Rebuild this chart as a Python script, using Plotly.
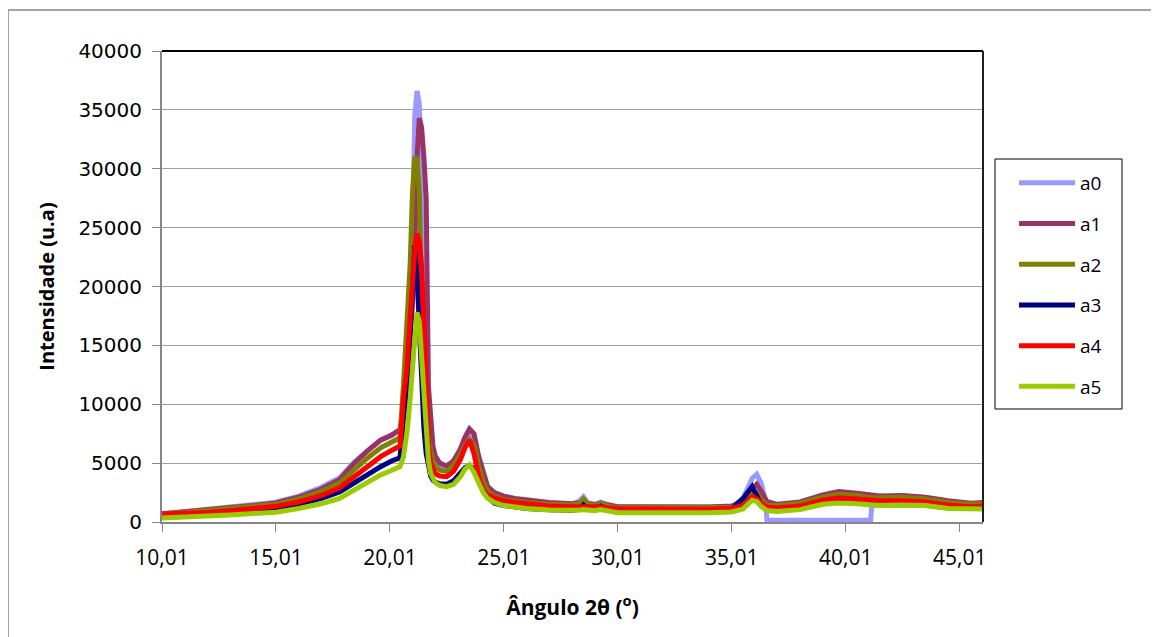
import plotly.graph_objects as go

# 2-theta positions (degrees) at which intensities were read
two_theta = [10.01, 11, 12, 13, 14, 15, 16, 17, 17.8, 18.4, 19.0, 19.6, 20.1, 20.45,
             20.6, 20.75, 20.9, 21.0, 21.1, 21.2, 21.3, 21.4, 21.5, 21.6, 21.7, 21.8, 21.9, 22.0,
             22.2, 22.5, 22.8, 23.1, 23.3, 23.5, 23.7, 23.9, 24.1, 24.3, 24.6, 25.0, 25.5, 26.0, 27.0,
             28.0, 28.3, 28.5, 28.7, 29.0, 29.25, 29.6, 30.0, 31, 32, 33, 34, 35, 35.5, 35.9, 36.1,
             36.3, 36.5, 36.55, 37, 38, 39, 39.7, 40.5, 41.1, 41.15, 41.5, 42.5, 43.5, 44.5, 45.5, 46.01]

a0 = [680, 870, 1080, 1250, 1450, 1680, 2200, 2950, 3750, 5000, 6000, 6950, 7350, 7850,
      9000, 12000, 16000, 24000, 34500, 36600, 35500, 29000, 17000, 11000, 7800, 6300, 5500, 5200,
      4800, 4600, 5000, 6000, 7000, 7600, 7200, 5400, 3800, 2900, 2400, 2100, 1900, 1750, 1600,
      1500, 1750, 2150, 1600, 1450, 1700, 1400, 1250, 1250, 1230, 1200, 1220, 1300, 2000, 3700, 4050,
      3300, 1700, 150, 150, 150, 150, 150, 150, 150, 1400, 1400, 1450, 1400, 1200, 1100, 1150]

a1 = [700, 850, 1050, 1200, 1400, 1620, 2100, 2800, 3600, 4900, 6000, 6950, 7400, 7850,
      9500, 12500, 15500, 18500, 23000, 31000, 34300, 33500, 31000, 27500, 11500, 8200, 6400, 5600,
      5000, 4760, 5200, 6200, 7200, 7900, 7500, 5600, 4100, 3000, 2500, 2200, 2000, 1850, 1650,
      1550, 1600, 1700, 1600, 1500, 1600, 1450, 1300, 1300, 1280, 1250, 1270, 1350, 1700, 2800, 3200,
      2600, 1800, 1750, 1500, 1700, 2300, 2580, 2450, 2250, 2250, 2200, 2250, 2100, 1800, 1600, 1650]

a2 = [650, 800, 1000, 1150, 1330, 1500, 1950, 2600, 3300, 4400, 5400, 6300, 6800, 7150,
      11500, 16500, 22000, 28000, 31000, 30800, 28000, 19000, 13000, 9000, 7000, 5800, 5100, 4700,
      4400, 4300, 4800, 5700, 6500, 7000, 6500, 4800, 3400, 2600, 2200, 1900, 1750, 1650, 1500,
      1450, 1550, 1950, 1550, 1400, 1600, 1350, 1200, 1200, 1150, 1150, 1170, 1250, 1700, 2600, 2500,
      1900, 1500, 1450, 1400, 1600, 2100, 2350, 2250, 2050, 2050, 2050, 2100, 1950, 1650, 1500, 1550]

a3 = [450, 520, 620, 780, 950, 1150, 1500, 2000, 2550, 3300, 4000, 4700, 5200, 5450,
      8500, 11500, 16000, 20500, 23500, 21000, 16000, 12000, 8000, 5800, 4600, 3900, 3550, 3400,
      3250, 3200, 3500, 4100, 4600, 4800, 4500, 3700, 2700, 2100, 1600, 1400, 1250, 1150, 1050,
      1000, 1100, 1450, 1100, 1000, 1350, 1050, 900, 900, 880, 880, 900, 1100, 2000, 3000, 2300,
      1500, 1100, 1080, 1000, 1250, 1700, 1950, 1800, 1600, 1600, 1600, 1650, 1550, 1300, 1150, 1200]

a4 = [680, 730, 800, 950, 1130, 1330, 1700, 2250, 2900, 3800, 4700, 5550, 6100, 6450,
      10400, 13000, 17450, 20500, 23000, 24500, 23800, 21700, 16500, 11000, 6500, 5000, 4400, 4100,
      3900, 3850, 4300, 5300, 6300, 6950, 5800, 3900, 2720, 2300, 2050, 1800, 1650, 1550, 1360,
      1300, 1300, 1350, 1300, 1250, 1300, 1200, 1100, 1100, 1080, 1050, 1080, 1150, 1400, 2150, 2000,
      1600, 1300, 1280, 1200, 1350, 1850, 2050, 1950, 1800, 1800, 1800, 1800, 1700, 1450, 1300, 1350]

a5 = [350, 400, 480, 600, 720, 830, 1150, 1550, 2000, 2700, 3350, 4000, 4400, 4700,
      5500, 7500, 10500, 12500, 15500, 17800, 17000, 14000, 10500, 7000, 5200, 4100, 3600, 3350,
      3100, 3000, 3200, 3850, 4500, 4850, 4200, 3300, 2500, 2000, 1650, 1400, 1250, 1150, 1020,
      950, 1000, 1050, 1000, 950, 1050, 900, 780, 780, 760, 750, 780, 850, 1100, 1850, 1750,
      1300, 1000, 980, 900, 1050, 1500, 1620, 1550, 1400, 1400, 1400, 1450, 1400, 1150, 1050, 1100]

series_names = ["a0", "a1", "a2", "a3", "a4", "a5"]
series_colors = ["#9999FF", "#993366", "#808000", "#000080", "#FF0000", "#99CC00"]

x_tick_values = [10.01, 15.01, 20.01, 25.01, 30.01, 35.01, 40.01, 45.01]
x_tick_labels = ["10,01", "15,01", "20,01", "25,01", "30,01", "35,01", "40,01", "45,01"]

fig = go.Figure()
for name, ys, col in zip(series_names, [a0, a1, a2, a3, a4, a5], series_colors):
    fig.add_trace(go.Scatter(x=two_theta, y=ys, mode="lines", name=name, legendgroup=name,
                             line=dict(color=col, width=5)))

# page offset (body margin) and plot area in page px: x 162..983, y 51..522
OFF = 8
PW, PH = 1159, 637
L, R, T, B = 162, 983, 51, 522
W, H = PW - OFF, PH - OFF

def px(xp):
    return (xp - L) / (R - L)

def py(yp):
    return (B - yp) / (B - T)

shapes = [
    dict(type="line", xref="paper", yref="paper", x0=0, x1=1, y0=1, y1=1, line=dict(color="black", width=2)),
    dict(type="line", xref="paper", yref="paper", x0=1, x1=1, y0=0, y1=1, line=dict(color="#202020", width=2)),
    dict(type="rect", xref="paper", yref="paper", x0=px(995), x1=px(1122), y0=py(409), y1=py(159),
         line=dict(color="black", width=1), fillcolor="rgba(0,0,0,0)"),
    dict(type="line", xref="paper", yref="paper", x0=px(8), x1=px(8), y0=py(10), y1=py(700),
         line=dict(color="#868686", width=1.5)),
    dict(type="line", xref="paper", yref="paper", x0=px(8), x1=px(1300), y0=py(10), y1=py(10),
         line=dict(color="#868686", width=1.5)),
]

fig.update_layout(
    width=W, height=H,
    margin=dict(l=L - OFF, r=PW - R, t=T - OFF, b=PH - B),
    paper_bgcolor="white", plot_bgcolor="white",
    shapes=shapes,
    showlegend=True,
    legend=dict(x=px(1014), y=py(164), xanchor="left", yanchor="top",
                bgcolor="rgba(0,0,0,0)", borderwidth=0, itemwidth=56,
                font=dict(family="Open Sans", size=19, color="black"),
                tracegroupgap=13, traceorder="grouped"),
    xaxis=dict(range=[10.01, 46.03], tickvals=x_tick_values, ticktext=x_tick_labels,
               showgrid=False, zeroline=False, showline=True, linecolor="#868686", linewidth=2,
               ticks="outside", ticklen=8, tickcolor="#868686", tickwidth=1,
               ticklabelstandoff=8,
               tickfont=dict(family="Open Sans", size=21, color="black"),
               title=dict(text="Ângulo 2θ (<sup>o</sup>)", standoff=30,
                          font=dict(family="Open Sans", size=21, color="black", weight="bold"))),
    yaxis=dict(range=[0, 40000], dtick=5000, tickformat="d",
               showgrid=True, gridcolor="#a0a0a0", gridwidth=1, zeroline=False,
               showline=True, linecolor="#868686", linewidth=2,
               ticks="outside", ticklen=8, tickcolor="#868686", tickwidth=1,
               ticklabelstandoff=6,
               tickfont=dict(family="DejaVu Sans", size=20, color="black"),
               title=dict(text="Intensidade (u.a)", standoff=18,
                          font=dict(family="Open Sans", size=20, color="black", weight="bold"))),
)

fig.write_html("out.html")
